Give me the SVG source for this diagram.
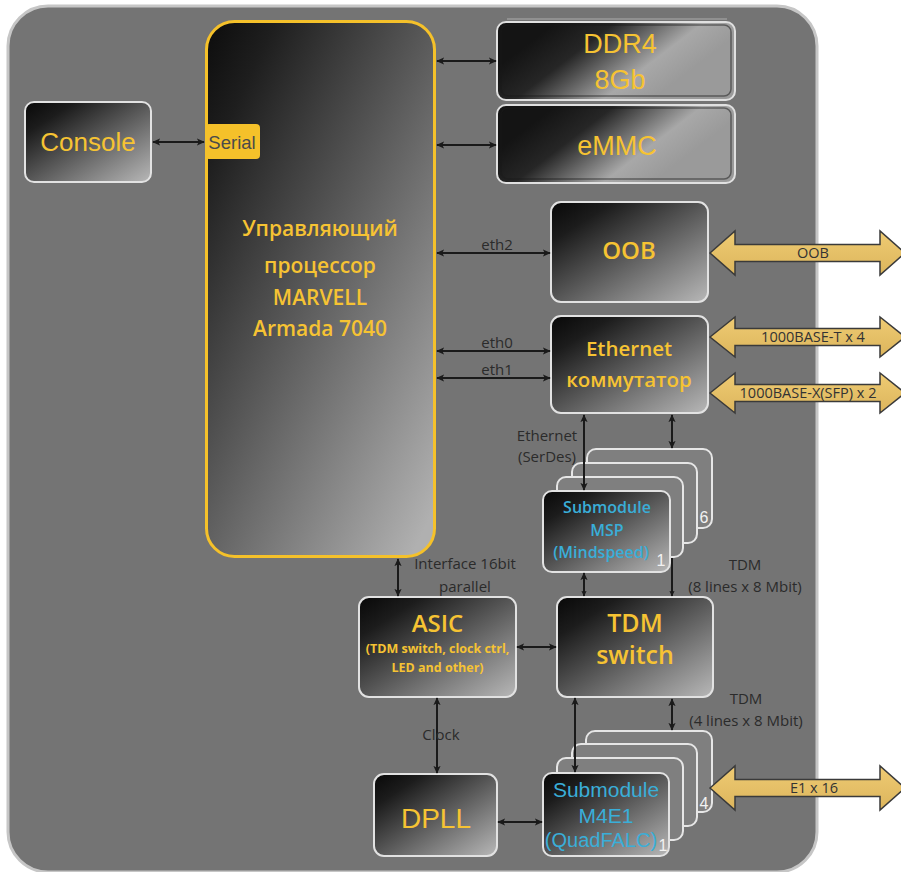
<svg xmlns="http://www.w3.org/2000/svg" width="901" height="872" viewBox="0 0 901 872">
<defs>
  <linearGradient id="gBox" x1="0" y1="0" x2="1" y2="1">
    <stop offset="0" stop-color="#080808"/>
    <stop offset="0.2" stop-color="#1c1c1c"/>
    <stop offset="1" stop-color="#b8b8b8"/>
  </linearGradient>
  <linearGradient id="gProc" x1="0" y1="0" x2="0.9" y2="1">
    <stop offset="0" stop-color="#0c0c0c"/>
    <stop offset="0.15" stop-color="#1e1e1e"/>
    <stop offset="1" stop-color="#b0b0b0"/>
  </linearGradient>
  <linearGradient id="gMem" x1="0.1" y1="0.35" x2="0.8" y2="0.65">
    <stop offset="0" stop-color="#141414"/>
    <stop offset="0.3" stop-color="#262626"/>
    <stop offset="0.75" stop-color="#a8a8a8"/>
    <stop offset="1" stop-color="#9a9a9a"/>
  </linearGradient>
  <linearGradient id="gGold" x1="0" y1="0" x2="0" y2="1">
    <stop offset="0" stop-color="#efcb73"/>
    <stop offset="1" stop-color="#dcb55c"/>
  </linearGradient>
  <marker id="ah" viewBox="0 0 10 10" refX="9" refY="5" markerWidth="8" markerHeight="8" markerUnits="userSpaceOnUse" orient="auto-start-reverse">
    <path d="M0,0.5 L10,5 L0,9.5 L2.5,5 Z" fill="#1a1a1a"/>
  </marker>
  <marker id="ahs" viewBox="0 0 10 10" refX="9" refY="5" markerWidth="6" markerHeight="6" markerUnits="userSpaceOnUse" orient="auto-start-reverse">
    <path d="M0,0.5 L10,5 L0,9.5 L2.5,5 Z" fill="#1a1a1a"/>
  </marker>
  <style>
    .box { fill: url(#gBox); stroke: #e2e2e2; stroke-width: 2; }
    .mem { fill: url(#gMem); stroke: #e0e0e0; stroke-width: 2; }
    .card { fill: #7f7f7f; stroke: #e6e6e6; stroke-width: 2; }
    .conn { stroke: #1a1a1a; stroke-width: 2; fill: none; }
    .big { fill: url(#gGold); stroke: #3a3a3a; stroke-width: 1.5; }
    .yl { fill: #f6c333; font-family: "Open Sans", "Liberation Sans", sans-serif; text-anchor: middle; }
    .ya { fill: #f6c333; font-family: "Liberation Sans", Arial, sans-serif; text-anchor: middle; }
    .lbl { fill: #2b2b2b; font-family: "Open Sans", "Liberation Sans", sans-serif; font-size: 15px; text-anchor: middle; }
    .blu { fill: #3aaed8; text-anchor: middle; }
    .num { fill: #f2f2f2; font-family: "Liberation Sans", Arial, sans-serif; font-size: 16px; text-anchor: middle; }
    .blbl { fill: #333333; font-family: "Open Sans", "Liberation Sans", sans-serif; font-size: 14.5px; text-anchor: middle; }
  </style>
</defs>

<!-- board -->
<rect id="board" x="8" y="6" width="809" height="866" rx="40" fill="#747474" stroke="#c6c6c6" stroke-width="3"/>

<g id="console">
  <rect class="box" x="25" y="102" width="126" height="80" rx="9"/>
  <text class="ya" x="88" y="151" font-size="26">Console</text>
</g>

<g id="processor">
  <rect x="206.5" y="21.5" width="228" height="535" rx="28" fill="url(#gProc)" stroke="#f5c12a" stroke-width="3"/>
  <text class="yl" x="320" y="236" font-size="21" font-weight="600">Управляющий</text>
  <text class="yl" x="320" y="273" font-size="21" font-weight="600">процессор</text>
  <text class="yl" x="320" y="305" font-size="21" font-weight="600">MARVELL</text>
  <text class="yl" x="320" y="336" font-size="21" font-weight="600">Armada 7040</text>
</g>

<g id="serial">
  <rect x="205" y="124" width="55" height="35" rx="4" fill="#f5c12a"/>
  <text x="232" y="148.5" font-family="Liberation Sans, Arial, sans-serif" font-size="18.5" fill="#4a4a4a" text-anchor="middle">Serial</text>
</g>

<g id="ddr4">
  <line x1="507" y1="19" x2="727" y2="19" stroke="#9a9a9a" stroke-width="1.5"/>
  <rect class="mem" x="497" y="22" width="238" height="78" rx="9"/>
  <rect x="501" y="25" width="230" height="71" rx="7" fill="none" stroke="#1a1a1a" stroke-opacity="0.5" stroke-width="1.5"/>
  <text class="ya" x="620" y="52.5" font-size="27">DDR4</text>
  <text class="ya" x="620" y="89" font-size="27">8Gb</text>
</g>

<g id="emmc">
  <rect class="mem" x="497" y="105" width="238" height="78" rx="9"/>
  <rect x="501" y="108" width="230" height="71" rx="7" fill="none" stroke="#1a1a1a" stroke-opacity="0.5" stroke-width="1.5"/>
  <text class="ya" x="617" y="154.5" font-size="27">eMMC</text>
</g>

<g id="oob">
  <rect class="box" x="551" y="202" width="157" height="100" rx="10"/>
  <text class="yl" x="629" y="259" font-size="24" font-weight="600">OOB</text>
</g>

<g id="ethswitch">
  <rect class="box" x="551" y="316" width="157" height="97" rx="10"/>
  <text class="yl" x="629" y="356" font-size="20.5" font-weight="600">Ethernet</text>
  <text class="yl" x="629" y="387" font-size="20.5" font-weight="600">коммутатор</text>
</g>

<g id="msp">
  <rect class="card" x="587" y="449" width="125" height="79" rx="9"/>
  <rect class="card" x="572" y="463" width="125" height="80" rx="9"/>
  <rect class="card" x="557" y="477" width="126" height="80" rx="9"/>
  <rect class="box" x="543" y="491" width="127" height="81" rx="9"/>
  <text class="blu" x="607" y="513" font-family="Open Sans, Liberation Sans, sans-serif" font-size="16" font-weight="600">Submodule</text>
  <text class="blu" x="607" y="536" font-family="Open Sans, Liberation Sans, sans-serif" font-size="16" font-weight="600">MSP</text>
  <text class="blu" x="601" y="558" font-family="Open Sans, Liberation Sans, sans-serif" font-size="16" font-weight="600">(Mindspeed)</text>
  <text class="num" x="704" y="523">6</text>
  <text class="num" x="661" y="566">1</text>
</g>

<g id="asic">
  <rect class="box" x="359" y="597" width="157" height="100" rx="10"/>
  <text class="yl" x="437.5" y="632" font-size="24" font-weight="600">ASIC</text>
  <text class="yl" x="437.5" y="653" font-size="12.5" font-weight="700">(TDM switch, clock ctrl,</text>
  <text class="yl" x="437.5" y="672" font-size="12.5" font-weight="700">LED and other)</text>
</g>

<g id="tdmswitch">
  <rect class="box" x="557" y="597" width="156" height="100" rx="10"/>
  <text class="yl" x="635" y="632" font-size="25" font-weight="600">TDM</text>
  <text class="yl" x="635" y="664" font-size="25" font-weight="600">switch</text>
</g>

<g id="dpll">
  <rect class="box" x="374" y="774" width="123" height="82" rx="10"/>
  <text class="ya" x="436" y="828" font-size="28">DPLL</text>
</g>

<g id="m4e1">
  <rect class="card" x="586" y="731" width="126" height="81" rx="9"/>
  <rect class="card" x="572" y="744" width="125" height="82" rx="9"/>
  <rect class="card" x="557" y="758" width="126" height="82" rx="9"/>
  <rect class="box" x="543" y="773" width="126" height="83" rx="9"/>
  <text class="blu" x="606" y="797" font-family="Liberation Sans, Arial, sans-serif" font-size="21">Submodule</text>
  <text class="blu" x="606" y="823" font-family="Liberation Sans, Arial, sans-serif" font-size="21">M4E1</text>
  <text class="blu" x="601" y="847" font-family="Liberation Sans, Arial, sans-serif" font-size="20">(QuadFALC)</text>
  <text class="num" x="704" y="809">4</text>
  <text class="num" x="663" y="851">1</text>
</g>

<g id="external">
  <path class="big" d="M710,253 L735,231 L735,244.5 L880,244.5 L880,231 L905,253 L880,275 L880,261.5 L735,261.5 L735,275 Z"/>
  <text class="blbl" x="813" y="258">OOB</text>
  <path class="big" d="M710,337 L735,317 L735,328.5 L880,328.5 L880,317 L905,337 L880,357 L880,345.5 L735,345.5 L735,357 Z"/>
  <text class="blbl" x="813" y="342">1000BASE-T x 4</text>
  <path class="big" d="M710,393 L735,373 L735,384.5 L880,384.5 L880,373 L905,393 L880,413 L880,401.5 L735,401.5 L735,413 Z"/>
  <text class="blbl" x="808" y="398">1000BASE-X(SFP) x 2</text>
  <path class="big" d="M710,788 L735,766 L735,779.5 L880,779.5 L880,766 L905,788 L880,810 L880,796.5 L735,796.5 L735,810 Z"/>
  <text class="blbl" x="814" y="793">E1 x 16</text>
</g>

<g id="connectors">
  <path class="conn" d="M153,142 H204" marker-start="url(#ah)" marker-end="url(#ah)"/>
  <path class="conn" d="M437,61 H496" marker-start="url(#ah)" marker-end="url(#ah)"/>
  <path class="conn" d="M437,145 H496" marker-start="url(#ah)" marker-end="url(#ah)"/>
  <path class="conn" d="M437,253 H550" marker-start="url(#ah)" marker-end="url(#ah)"/>
  <path class="conn" d="M437,351 H550" marker-start="url(#ah)" marker-end="url(#ah)"/>
  <path class="conn" d="M437,378 H550" marker-start="url(#ah)" marker-end="url(#ah)"/>
  <path class="conn" d="M584,415 V490" marker-start="url(#ah)" marker-end="url(#ah)"/>
  <path class="conn" d="M672,415 V448" marker-start="url(#ah)" marker-end="url(#ah)"/>
  <path class="conn" d="M584,573 V596" marker-start="url(#ah)" marker-end="url(#ahs)"/>
  <path class="conn" d="M672,558 V596" marker-end="url(#ahs)"/>
  <path class="conn" d="M398,559 V596" marker-start="url(#ah)" marker-end="url(#ah)"/>
  <path class="conn" d="M517,647 H556" marker-start="url(#ah)" marker-end="url(#ah)"/>
  <path class="conn" d="M437,698 V773" marker-start="url(#ah)" marker-end="url(#ah)"/>
  <path class="conn" d="M575,698 V772" marker-start="url(#ah)" marker-end="url(#ah)"/>
  <path class="conn" d="M672,699 V730" marker-start="url(#ah)" marker-end="url(#ah)"/>
  <path class="conn" d="M498,822 H542" marker-start="url(#ah)" marker-end="url(#ah)"/>
  <text class="lbl" x="497" y="250">eth2</text>
  <text class="lbl" x="497" y="348">eth0</text>
  <text class="lbl" x="497" y="375">eth1</text>
  <text class="lbl" x="547" y="441">Ethernet</text>
  <text class="lbl" x="547" y="462">(SerDes)</text>
  <text class="lbl" x="745" y="570">TDM</text>
  <text class="lbl" x="745" y="592">(8 lines x 8 Mbit)</text>
  <text class="lbl" x="465" y="569">Interface 16bit</text>
  <text class="lbl" x="465" y="592">parallel</text>
  <text class="lbl" x="441" y="740" text-anchor="start">Clock</text>
  <text class="lbl" x="746" y="704">TDM</text>
  <text class="lbl" x="746" y="726">(4 lines x 8 Mbit)</text>
</g>
</svg>
